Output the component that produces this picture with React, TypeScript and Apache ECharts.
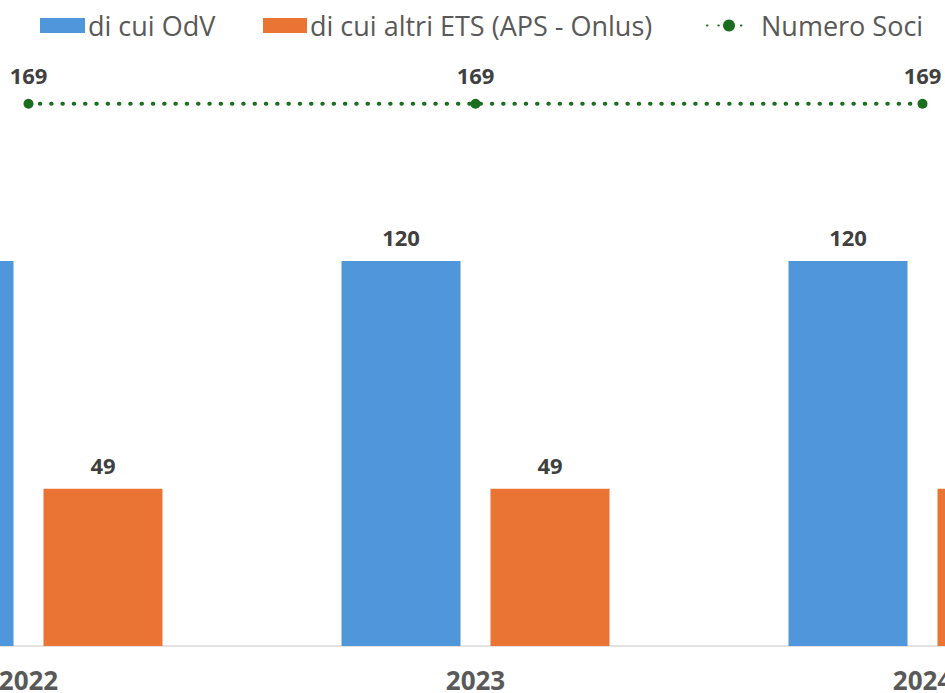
import React, { useEffect, useRef } from "react";
import * as echarts from "echarts";

const categories = ["2022", "2023", "2024"];
const odvValues = [120, 120, 120];
const altriValues = [49, 49, 49];
const sociValues = [169, 169, 169];

const seriesNames = ["di cui OdV", "di cui altri ETS (APS - Onlus)", "Numero Soci"];

const FONT = "'Open Sans', 'Noto Sans', sans-serif";
const OFFSET = 195;

export default function App() {
  const ref = useRef<HTMLDivElement>(null);
  useEffect(() => {
    if (!ref.current) return;
    const chart = echarts.init(ref.current, undefined, { renderer: "svg" });
    const legendText = { fontSize: 27, color: "#595959", fontFamily: FONT, padding: [0, 0, 0, -2] };
    const dataLabel = {
      show: true,
      position: "top" as const,
      fontSize: 22,
      fontWeight: "bold" as const,
      color: "#404040",
      fontFamily: FONT,
    };
    chart.setOption({
      animation: false,
      backgroundColor: "#ffffff",
      legend: [
        {
          data: [{ name: seriesNames[0], icon: "rect" }],
          left: 40 + OFFSET,
          top: 12,
          padding: 0,
          itemWidth: 45,
          itemHeight: 15,
          itemGap: 0,
          textStyle: legendText,
        },
        {
          data: [{ name: seriesNames[1], icon: "rect" }],
          left: 263 + OFFSET,
          top: 12,
          padding: 0,
          itemWidth: 44,
          itemHeight: 15,
          itemGap: 0,
          textStyle: legendText,
        },
        {
          data: [seriesNames[2]],
          left: 706 + OFFSET,
          top: 12,
          padding: 0,
          itemWidth: 44,
          itemHeight: 15,
          itemGap: 0,
          textStyle: { ...legendText, padding: [0, 0, 0, 5] },
        },
      ],
      grid: { left: 0, right: 0, top: 68.5, bottom: 47 },
      xAxis: {
        type: "category",
        data: categories,
        boundaryGap: true,
        axisLine: { show: true, lineStyle: { color: "#D9D9D9", width: 1.5 } },
        axisTick: { show: false },
        axisLabel: {
          fontSize: 26,
          fontWeight: "bold",
          color: "#595959",
          fontFamily: FONT,
          margin: 21,
        },
      },
      yAxis: {
        type: "value",
        min: 0,
        max: 180,
        show: false,
        splitLine: { show: false },
      },
      series: [
        {
          name: seriesNames[0],
          type: "bar",
          data: odvValues,
          barWidth: 119,
          barGap: "25.2%",
          itemStyle: { color: "#5096DA" },
          label: { ...dataLabel, distance: 13 },
        },
        {
          name: seriesNames[1],
          type: "bar",
          data: altriValues,
          barWidth: 119,
          barGap: "25.2%",
          itemStyle: { color: "#E97433" },
          label: { ...dataLabel, distance: 13 },
        },
        {
          name: seriesNames[2],
          type: "line",
          data: sociValues,
          symbol: "circle",
          symbolSize: 10,
          itemStyle: { color: "#1B6E1E" },
          lineStyle: { color: "#1B6E1E", width: 4, type: [0.5, 10.8], cap: "round" },
          label: { ...dataLabel, distance: 13 },
          z: 5,
        },
      ],
    });
    return () => chart.dispose();
  }, []);
  return (
    <div
      style={{
        position: "fixed",
        left: 0,
        top: 0,
        width: 945,
        height: 693,
        overflow: "hidden",
        background: "#ffffff",
      }}
    >
      <div
        ref={ref}
        style={{ position: "absolute", left: -OFFSET, top: 0, width: 1341, height: 693 }}
      />
    </div>
  );
}
